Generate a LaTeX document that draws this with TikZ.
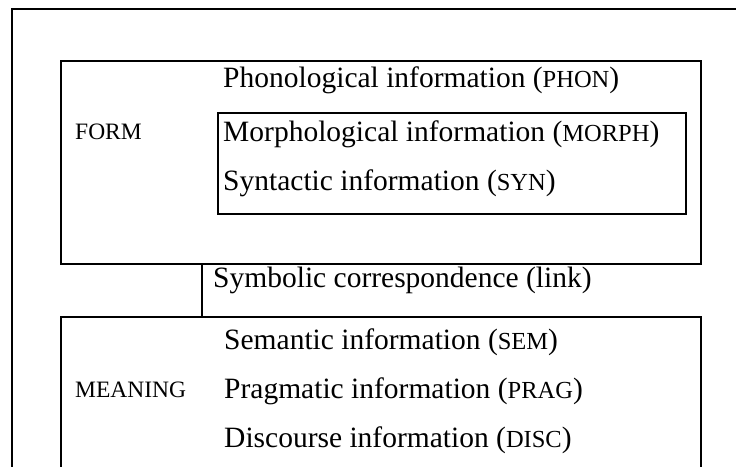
\documentclass[tikz,border=0pt]{standalone}
\usepackage{fontspec}
\setmainfont{Liberation Serif}
\usepackage{tikz}
\usetikzlibrary{positioning, calc}

\newcommand{\abbr}[1]{{\fontsize{24.5}{24.5}\selectfont #1}}

\begin{document}
\begin{tikzpicture}[
    x=1pt, y=-1pt,
    frame/.style={rectangle, draw=black, line width=2pt, inner sep=0pt},
    info/.style={anchor=base west, inner sep=0pt, font=\fontsize{29.5}{29.5}\selectfont},
    tag/.style={anchor=base west, inner sep=0pt, font=\fontsize{23.5}{23.5}\selectfont},
  ]
  \useasboundingbox (0,0) rectangle (736,466);
  \clip (0,0) rectangle (736,466);

  % 外框与三个方框
  \node[frame, minimum width=748pt, minimum height=481pt] (outer) at (386,249.5) {};
  \node[frame, minimum width=640pt, minimum height=203pt] (form) at (381,162.5) {};
  \node[frame, minimum width=468pt, minimum height=101pt] (inner) at (452,163.5) {};
  \node[frame, minimum width=640pt, minimum height=183pt] (meaning) at (381,408.5) {};

  % 形式
  \node[tag] (formlbl) at (75,139) {FORM};
  \node[info] (phon) at (223,87) {Phonological information (\abbr{PHON})};
  \node[info] (morph) at (223,141) {Morphological information (\abbr{MORPH})};
  \node[info] (syn) at (223,190) {Syntactic information (\abbr{SYN})};

  % 符号对应
  \node[info] (link) at (213,287) {Symbolic correspondence (link)};
  \draw[line width=2pt] ([xshift=142pt]form.south west) -- ([xshift=142pt]meaning.north west);

  % 意义
  \node[tag] (meaninglbl) at (75,397) {MEANING};
  \node[info] (sem) at (224,349) {Semantic information (\abbr{SEM})};
  \node[info] (prag) at (224,398) {Pragmatic information (\abbr{PRAG})};
  \node[info] (disc) at (224,447) {Discourse information (\abbr{DISC})};
\end{tikzpicture}
\end{document}
